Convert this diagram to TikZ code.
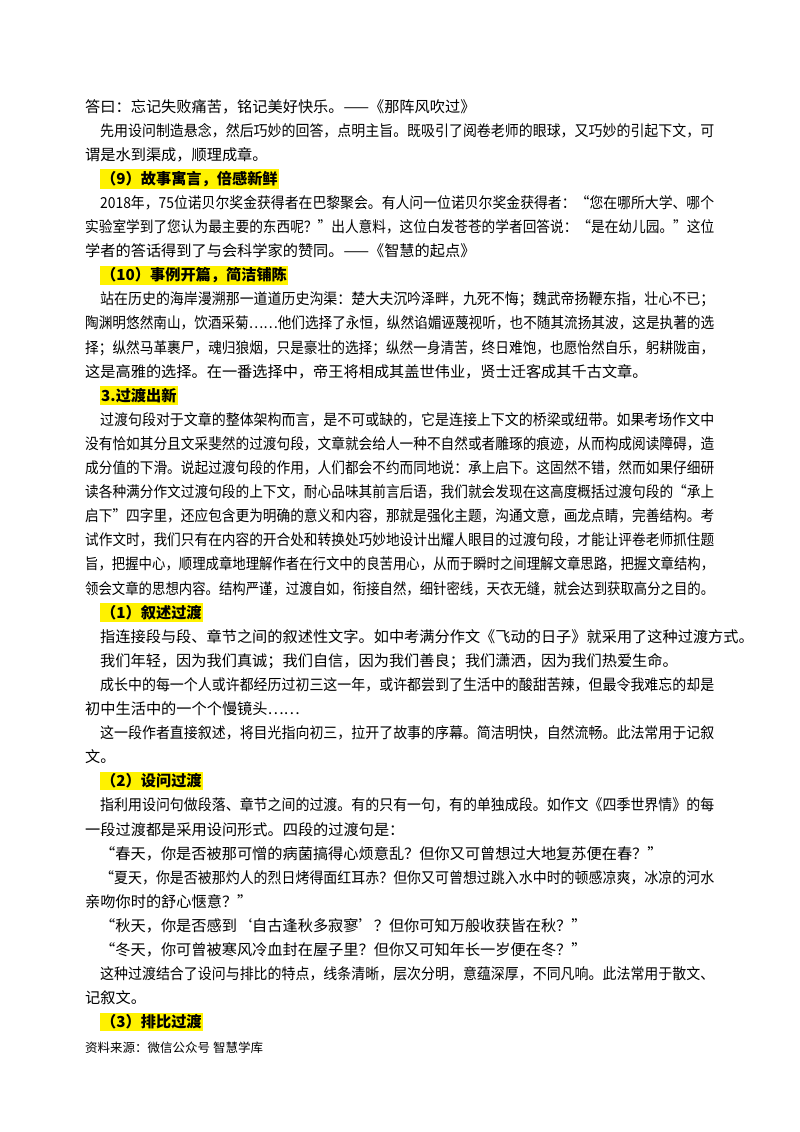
\documentclass[tikz,border=0pt]{standalone}
\usepackage{fontspec}
\usepackage{graphicx}
\setmainfont{Noto Sans CJK SC}
\XeTeXlinebreaklocale "zh"
\XeTeXlinebreakskip=0pt plus 3pt minus 2.5pt
\newlength\fitw
\newcommand\fitline[2]{\setlength\fitw{#1}\setbox0\hbox{#2}\ifdim\wd0>\fitw\resizebox{\fitw}{\height}{\box0}\else\makebox[\fitw][s]{#2}\fi}
\newcommand\FL[4]{\node[txt] (#1) at (#2,{112+24.1*(#3-1)}) {\fitline{\dimexpr714pt-#2pt\relax}{#4}};}
\newcommand\PL[4]{\node[txt] (#1) at (#2,{112+24.1*(#3-1)}) {#4};}
\newcommand\HL[3]{\node[txt,fill=yellow,inner xsep=1pt,inner ysep=2pt,font=\fontsize{15.2}{18}\selectfont\bfseries] (#1) at (100,{112+24.1*(#2-1)}) {#3};}
\begin{document}
\begin{tikzpicture}[x=1pt,y=-1pt,txt/.style={anchor=base west,inner sep=0pt,font=\fontsize{15.2}{18}\selectfont}]
\useasboundingbox (0,0) rectangle (800,1132);
\fill[white] (0,0) rectangle (800,1132);
\PL{l1}{85}{1}{答曰：忘记失败痛苦，铭记美好快乐。——《那阵风吹过》}
\FL{l2}{100}{2}{先用设问制造悬念，然后巧妙的回答，点明主旨。既吸引了阅卷老师的眼球，又巧妙的引起下文，可}
\PL{l3}{85}{3}{谓是水到渠成，顺理成章。}
\HL{l4}{4}{（9）故事寓言，倍感新鲜}
\FL{l5}{100}{5}{2018年，75位诺贝尔奖金获得者在巴黎聚会。有人问一位诺贝尔奖金获得者：“您在哪所大学、哪个}
\FL{l6}{85}{6}{实验室学到了您认为最主要的东西呢？”出人意料，这位白发苍苍的学者回答说：“是在幼儿园。”这位}
\PL{l7}{85}{7}{学者的答话得到了与会科学家的赞同。——《智慧的起点》}
\HL{l8}{8}{（10）事例开篇，简洁铺陈}
\FL{l9}{100}{9}{站在历史的海岸漫溯那一道道历史沟渠：楚大夫沉吟泽畔，九死不悔；魏武帝扬鞭东指，壮心不已；}
\FL{l10}{85}{10}{陶渊明悠然南山，饮酒采菊……他们选择了永恒，纵然谄媚诬蔑视听，也不随其流扬其波，这是执著的选}
\FL{l11}{85}{11}{择；纵然马革裹尸，魂归狼烟，只是豪壮的选择；纵然一身清苦，终日难饱，也愿怡然自乐，躬耕陇亩，}
\PL{l12}{85}{12}{这是高雅的选择。在一番选择中，帝王将相成其盖世伟业，贤士迁客成其千古文章。}
\HL{l13}{13}{3.过渡出新}
\FL{l14}{100}{14}{过渡句段对于文章的整体架构而言，是不可或缺的，它是连接上下文的桥梁或纽带。如果考场作文中}
\FL{l15}{85}{15}{没有恰如其分且文采斐然的过渡句段，文章就会给人一种不自然或者雕琢的痕迹，从而构成阅读障碍，造}
\FL{l16}{85}{16}{成分值的下滑。说起过渡句段的作用，人们都会不约而同地说：承上启下。这固然不错，然而如果仔细研}
\FL{l17}{85}{17}{读各种满分作文过渡句段的上下文，耐心品味其前言后语，我们就会发现在这高度概括过渡句段的“承上}
\FL{l18}{85}{18}{启下”四字里，还应包含更为明确的意义和内容，那就是强化主题，沟通文意，画龙点睛，完善结构。考}
\FL{l19}{85}{19}{试作文时，我们只有在内容的开合处和转换处巧妙地设计出耀人眼目的过渡句段，才能让评卷老师抓住题}
\FL{l20}{85}{20}{旨，把握中心，顺理成章地理解作者在行文中的良苦用心，从而于瞬时之间理解文章思路，把握文章结构，}
\FL{l21}{85}{21}{领会文章的思想内容。结构严谨，过渡自如，衔接自然，细针密线，天衣无缝，就会达到获取高分之目的。}
\HL{l22}{22}{（1）叙述过渡}
\PL{l23}{100}{23}{指连接段与段、章节之间的叙述性文字。如中考满分作文《飞动的日子》就采用了这种过渡方式。}
\PL{l24}{100}{24}{我们年轻，因为我们真诚；我们自信，因为我们善良；我们潇洒，因为我们热爱生命。}
\FL{l25}{100}{25}{成长中的每一个人或许都经历过初三这一年，或许都尝到了生活中的酸甜苦辣，但最令我难忘的却是}
\PL{l26}{85}{26}{初中生活中的一个个慢镜头……}
\FL{l27}{100}{27}{这一段作者直接叙述，将目光指向初三，拉开了故事的序幕。简洁明快，自然流畅。此法常用于记叙}
\PL{l28}{85}{28}{文。}
\HL{l29}{29}{（2）设问过渡}
\FL{l30}{100}{30}{指利用设问句做段落、章节之间的过渡。有的只有一句，有的单独成段。如作文《四季世界情》的每}
\PL{l31}{85}{31}{一段过渡都是采用设问形式。四段的过渡句是：}
\PL{l32}{100}{32}{“春天，你是否被那可憎的病菌搞得心烦意乱？但你又可曾想过大地复苏便在春？”}
\FL{l33}{100}{33}{“夏天，你是否被那灼人的烈日烤得面红耳赤？但你又可曾想过跳入水中时的顿感凉爽，冰凉的河水}
\PL{l34}{85}{34}{亲吻你时的舒心惬意？”}
\PL{l35}{100}{35}{“秋天，你是否感到‘自古逢秋多寂寥’？但你可知万般收获皆在秋？”}
\PL{l36}{100}{36}{“冬天，你可曾被寒风冷血封在屋子里？但你又可知年长一岁便在冬？”}
\FL{l37}{100}{37}{这种过渡结合了设问与排比的特点，线条清晰，层次分明，意蕴深厚，不同凡响。此法常用于散文、}
\PL{l38}{85}{38}{记叙文。}
\HL{l39}{39}{（3）排比过渡}
\node[txt,font=\fontsize{12.5}{15}\selectfont] (foot) at (85,1052) {资料来源：微信公众号 智慧学库};
\end{tikzpicture}
\end{document}
